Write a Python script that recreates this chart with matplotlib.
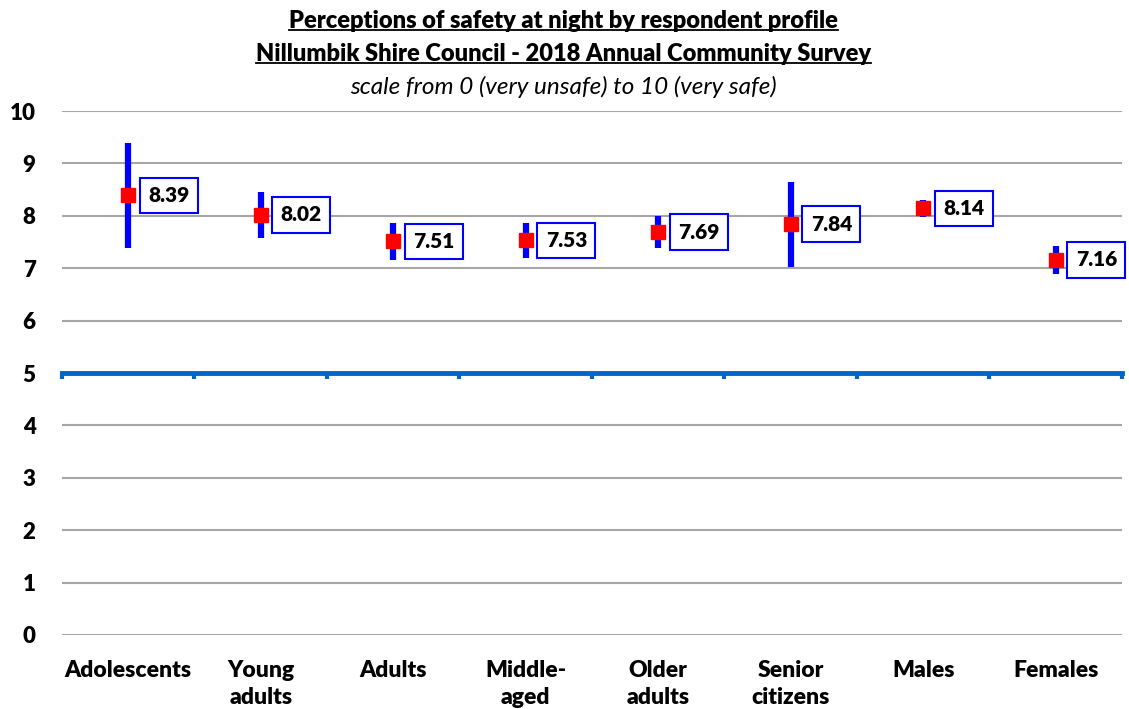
import numpy as np
import matplotlib
matplotlib.use("Agg")
import matplotlib.pyplot as plt
from matplotlib.lines import Line2D

plt.rcParams['font.family'] = ['Lato', 'DejaVu Sans']

# data
groups = ["Adolescents", "Young\nadults", "Adults", "Middle-\naged", "Older\nadults",
          "Senior\ncitizens", "Males", "Females"]
means = [8.39, 8.02, 7.51, 7.53, 7.69, 7.84, 8.14, 7.16]
ci = [1.00, 0.44, 0.36, 0.33, 0.31, 0.81, 0.17, 0.27]
neutral = 5

fig = plt.figure(figsize=(11.29, 7.09), dpi=100)
ax = fig.add_axes([0.0549, 0.1044, 0.9389, 0.739])

x = np.arange(len(groups))
ax.set_xlim(-0.5, len(groups) - 0.5)
ax.set_ylim(0, 10)

ax.set_yticks(range(0, 11))
ax.yaxis.grid(True, color="#a6a6a6", linewidth=1.5)
ax.set_axisbelow(True)
for s in ["left", "right", "top"]:
    ax.spines[s].set_visible(False)
ax.tick_params(axis="y", length=0, pad=19, labelsize=16)
for t in ax.get_yticklabels():
    t.set_fontweight("heavy")

# axis crossing at neutral point
ax.spines["bottom"].set_position(("data", neutral))
ax.spines["bottom"].set_color("#0066cc")
ax.spines["bottom"].set_linewidth(3.5)
ax.spines["bottom"].set_zorder(1)
ax.set_xticks(np.arange(len(groups) + 1) - 0.5)
ax.tick_params(axis="x", direction="out", length=4, width=3, color="#0066cc", labelbottom=False)

sec = ax.secondary_xaxis(location=0)
sec.set_xticks(x)
sec.set_xticklabels(groups, fontweight="heavy", fontsize=16.5, va="top", linespacing=1.38)
sec.tick_params(length=0, pad=18)
sec.spines["bottom"].set_visible(False)

ax.errorbar(x, means, yerr=ci, fmt="none", ecolor="#0000ff", elinewidth=4.5, capsize=0, zorder=3)
ax.plot(x, means, "s", color="#ff0000", markersize=10, zorder=4)

for xi, m in zip(x, means):
    ax.annotate(f"{m:.2f}", (xi, m), xytext=(20, 0), textcoords="offset pixels",
                ha="left", va="center", fontsize=15, fontweight="heavy",
                bbox=dict(boxstyle="square,pad=0.4", fc="white", ec="#0000ff", lw=1.5), zorder=5)

# titles
t1 = fig.text(0.499, 0.971, "Perceptions of safety at night by respondent profile",
              ha="center", va="center", fontsize=17, fontweight="heavy")
t2 = fig.text(0.499, 0.924, "Nillumbik Shire Council - 2018 Annual Community Survey",
              ha="center", va="center", fontsize=17, fontweight="heavy")
fig.text(0.499, 0.877, "scale from 0 (very unsafe) to 10 (very safe)",
         ha="center", va="center", fontsize=17.5, style="italic")

fig.canvas.draw()
r = fig.canvas.get_renderer()
for t in (t1, t2):
    bb = t.get_window_extent(r).transformed(fig.transFigure.inverted())
    yl = bb.y0 + 0.002
    fig.add_artist(Line2D([bb.x0, bb.x1], [yl, yl], color="black", lw=1.3, transform=fig.transFigure))

fig.savefig("out.png", dpi=100)
